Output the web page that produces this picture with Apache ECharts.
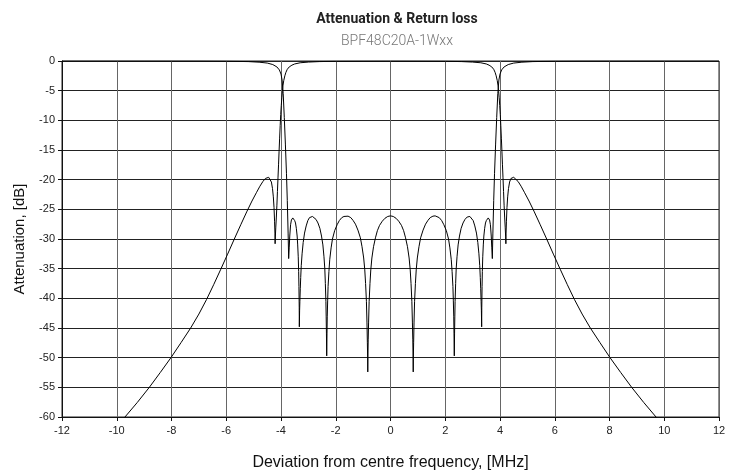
<!DOCTYPE html>
<html>
<head>
<meta charset="utf-8">
<script src="https://cdn.jsdelivr.net/npm/echarts@6/dist/echarts.min.js"></script>
<style>
html,body{margin:0;padding:0;background:#fff;}
#c{width:735px;height:476px;}
</style>
</head>
<body>
<div id="c"></div>
<script>
// Return loss (S11) as [MHz, dB]
const returnLoss = [
  [-12,0],[-9,-0.005],[-7,-0.01],[-6,-0.04],[-5.2,-0.1],[-4.8,-0.2],[-4.5,-0.35],[-4.3,-0.6],[-4.15,-1.0],[-4.06,-1.5],[-4.0,-2.2],[-3.96,-3.2],[-3.92,-5.5],[-3.88,-9.5],[-3.84,-14],[-3.8,-19],[-3.77,-23.5],[-3.74,-29],[-3.72,-33.3],
  [-3.70,-31.5],[-3.68,-29.5],[-3.65,-27.6],[-3.62,-26.8],[-3.6,-26.5],[-3.57,-26.45],[-3.54,-26.6],[-3.5,-26.9],[-3.47,-27.3],[-3.44,-28.2],[-3.41,-29.5],[-3.39,-31],[-3.37,-33],[-3.355,-35.5],[-3.345,-38],[-3.335,-41.5],[-3.33,-44.8],
  [-3.32,-42],[-3.31,-40.5],[-3.295,-38.3],[-3.28,-36.5],[-3.26,-34.5],[-3.23,-32.5],[-3.19,-30.6],[-3.14,-29],[-3.08,-27.8],[-3.02,-26.9],[-2.96,-26.4],[-2.9,-26.2],[-2.85,-26.2],[-2.8,-26.3],[-2.72,-26.7],[-2.65,-27.3],[-2.58,-28.2],[-2.52,-29.5],[-2.47,-31],[-2.43,-33],[-2.4,-35],[-2.38,-37.5],[-2.36,-40.5],[-2.35,-43],[-2.34,-46],[-2.33,-49.7],
  [-2.32,-46],[-2.31,-43],[-2.295,-40.3],[-2.28,-38],[-2.25,-35.5],[-2.22,-33.5],[-2.17,-31.5],[-2.12,-30],[-2.04,-28.6],[-1.95,-27.6],[-1.87,-26.9],[-1.78,-26.4],[-1.7,-26.2],[-1.63,-26.1],[-1.55,-26.15],[-1.45,-26.4],[-1.37,-26.85],[-1.28,-27.5],[-1.19,-28.5],[-1.1,-29.8],[-1.04,-31.3],[-0.98,-33.2],[-0.94,-35.2],[-0.91,-37.5],[-0.88,-40.5],[-0.86,-44],[-0.845,-47.5],[-0.835,-50],[-0.83,-52.4],
  [-0.825,-50],[-0.815,-47],[-0.80,-44],[-0.78,-40.5],[-0.75,-37.5],[-0.72,-35.2],[-0.68,-33.2],[-0.62,-31.3],[-0.55,-29.8],[-0.48,-28.6],[-0.4,-27.7],[-0.3,-27],[-0.2,-26.5],[-0.1,-26.2],[0,-26.1],
  [0.1,-26.2],[0.2,-26.5],[0.3,-27],[0.4,-27.7],[0.48,-28.6],[0.55,-29.8],[0.62,-31.3],[0.68,-33.2],[0.72,-35.2],[0.75,-37.5],[0.78,-40.5],[0.80,-44],[0.815,-47],[0.825,-50],[0.83,-52.4],
  [0.835,-50],[0.845,-47.5],[0.86,-44],[0.88,-40.5],[0.91,-37.5],[0.94,-35.2],[0.98,-33.2],[1.04,-31.3],[1.1,-29.8],[1.19,-28.5],[1.28,-27.5],[1.37,-26.85],[1.45,-26.4],[1.55,-26.15],[1.63,-26.1],[1.7,-26.2],[1.78,-26.4],[1.87,-26.9],[1.95,-27.6],[2.04,-28.6],[2.12,-30],[2.17,-31.5],[2.22,-33.5],[2.25,-35.5],[2.28,-38],[2.295,-40.3],[2.31,-43],[2.32,-46],[2.33,-49.7],
  [2.34,-46],[2.35,-43],[2.36,-40.5],[2.38,-37.5],[2.4,-35],[2.43,-33],[2.47,-31],[2.52,-29.5],[2.58,-28.2],[2.65,-27.3],[2.72,-26.7],[2.8,-26.3],[2.85,-26.2],[2.9,-26.2],[2.96,-26.4],[3.02,-26.9],[3.08,-27.8],[3.14,-29],[3.19,-30.6],[3.23,-32.5],[3.26,-34.5],[3.28,-36.5],[3.295,-38.3],[3.31,-40.5],[3.32,-42],[3.33,-44.8],
  [3.335,-41.5],[3.345,-38],[3.355,-35.5],[3.37,-33],[3.39,-31],[3.41,-29.5],[3.44,-28.2],[3.47,-27.3],[3.5,-26.9],[3.54,-26.6],[3.57,-26.45],[3.6,-26.5],[3.62,-26.8],[3.65,-27.6],[3.68,-29.5],[3.70,-31.5],[3.72,-33.3],
  [3.74,-29],[3.77,-23.5],[3.8,-19],[3.84,-14],[3.88,-9.5],[3.92,-5.5],[3.96,-3.2],[4.0,-2.2],[4.06,-1.5],[4.15,-1.0],[4.3,-0.6],[4.5,-0.35],[4.8,-0.2],[5.2,-0.1],[6,-0.04],[7,-0.01],[9,-0.005],[12,0]
];
// Attenuation (S21) as [MHz, dB]
const attenuation = [
  [-10.2,-62.4],[-9.7,-60],[-9.25,-57.55],[-8.81,-55],[-8.41,-52.5],[-8.02,-50],[-7.65,-47.45],[-7.3,-45],[-7.0,-42.65],[-6.72,-40.2],[-6.46,-37.7],[-6.2,-35.1],[-5.95,-32.55],[-5.71,-30.05],[-5.47,-27.6],[-5.24,-25.3],[-5.06,-23.6],[-4.9,-22.2],[-4.77,-21.1],[-4.66,-20.3],[-4.57,-19.8],[-4.5,-19.6],[-4.45,-19.6],[-4.4,-19.8],[-4.35,-20.4],[-4.31,-21.5],[-4.28,-22.9],[-4.255,-24.7],[-4.235,-27],[-4.222,-29],[-4.215,-30.8],
  [-4.205,-29.5],[-4.19,-28],[-4.17,-26.3],[-4.15,-24.3],[-4.13,-22],[-4.11,-19.7],[-4.09,-17.5],[-4.07,-15.2],[-4.05,-13],[-4.03,-10.9],[-4.01,-9],[-3.99,-7.5],[-3.97,-6.2],[-3.95,-5.1],[-3.93,-4.2],[-3.9,-3.3],[-3.86,-2.5],[-3.82,-1.9],[-3.77,-1.4],[-3.7,-1.0],[-3.6,-0.7],[-3.5,-0.5],[-3.3,-0.3],[-3.0,-0.18],[-2.6,-0.1],[-2.0,-0.05],[-1,-0.03],[0,-0.02],
  [1,-0.03],[2.0,-0.05],[2.6,-0.1],[3.0,-0.18],[3.3,-0.3],[3.5,-0.5],[3.6,-0.7],[3.7,-1.0],[3.77,-1.4],[3.82,-1.9],[3.86,-2.5],[3.9,-3.3],[3.93,-4.2],[3.95,-5.1],[3.97,-6.2],[3.99,-7.5],[4.01,-9],[4.03,-10.9],[4.05,-13],[4.07,-15.2],[4.09,-17.5],[4.11,-19.7],[4.13,-22],[4.15,-24.3],[4.17,-26.3],[4.19,-28],[4.205,-29.5],
  [4.215,-30.8],[4.222,-29],[4.235,-27],[4.255,-24.7],[4.28,-22.9],[4.31,-21.5],[4.35,-20.4],[4.4,-19.8],[4.45,-19.6],[4.5,-19.6],[4.57,-19.8],[4.66,-20.3],[4.77,-21.1],[4.9,-22.2],[5.06,-23.6],[5.24,-25.3],[5.47,-27.6],[5.71,-30.05],[5.95,-32.55],[6.2,-35.1],[6.46,-37.7],[6.72,-40.2],[7.0,-42.65],[7.3,-45],[7.65,-47.45],[8.02,-50],[8.41,-52.5],[8.81,-55],[9.25,-57.55],[9.7,-60],[10.2,-62.4]
];
const xTicks = {min:-12, max:12, step:2};
const yTicks = {min:-60, max:0, step:5};
const titleText = 'Attenuation & Return loss';
const subtitleText = 'BPF48C20A-1Wxx';
const xName = 'Deviation from centre frequency, [MHz]';
const yName = 'Attenuation, [dB]';

const chart = echarts.init(document.getElementById('c'), null, {renderer:'canvas'});
chart.setOption({
  animation:false,
  backgroundColor:'#fff',
  title:{
    text:titleText, subtext:subtitleText, left:392, top:7, textAlign:'center', itemGap:8,
    textStyle:{fontFamily:'Roboto', fontWeight:'bold', fontSize:14, color:'#222'},
    subtextStyle:{fontFamily:'Roboto', fontWeight:300, fontSize:14, color:'#777'}
  },
  grid:{left:62, right:16, top:61, bottom:59, show:true, borderColor:'#222', borderWidth:1},
  xAxis:{
    type:'value', min:xTicks.min, max:xTicks.max, interval:xTicks.step,
    name:xName, nameLocation:'middle', nameGap:38,
    nameTextStyle:{fontFamily:'Liberation Sans', fontSize:16, color:'#111'},
    axisLine:{show:true, onZero:false, lineStyle:{color:'#111', width:1}},
    axisTick:{show:true, length:4, lineStyle:{color:'#111'}},
    axisLabel:{fontFamily:'Liberation Sans', fontSize:11, color:'#222', margin:8},
    splitLine:{show:true, lineStyle:{color:'#666', width:1}}
  },
  yAxis:{
    type:'value', min:yTicks.min, max:yTicks.max, interval:yTicks.step,
    name:yName, nameLocation:'middle', nameGap:35,
    nameTextStyle:{fontFamily:'Liberation Sans', fontSize:15, color:'#111'},
    axisLine:{show:true, onZero:false, lineStyle:{color:'#111', width:1}},
    axisTick:{show:true, length:4, lineStyle:{color:'#111'}},
    axisLabel:{fontFamily:'Liberation Sans', fontSize:11, color:'#222', margin:7},
    splitLine:{show:true, lineStyle:{color:'#222', width:1}}
  },
  series:[
    {type:'line', name:'Return loss', data:returnLoss, showSymbol:false, smooth:false, clip:true,
     lineStyle:{color:'#000', width:1}},
    {type:'line', name:'Attenuation', data:attenuation, showSymbol:false, smooth:false, clip:true,
     lineStyle:{color:'#000', width:1}}
  ]
});
</script>
</body>
</html>
